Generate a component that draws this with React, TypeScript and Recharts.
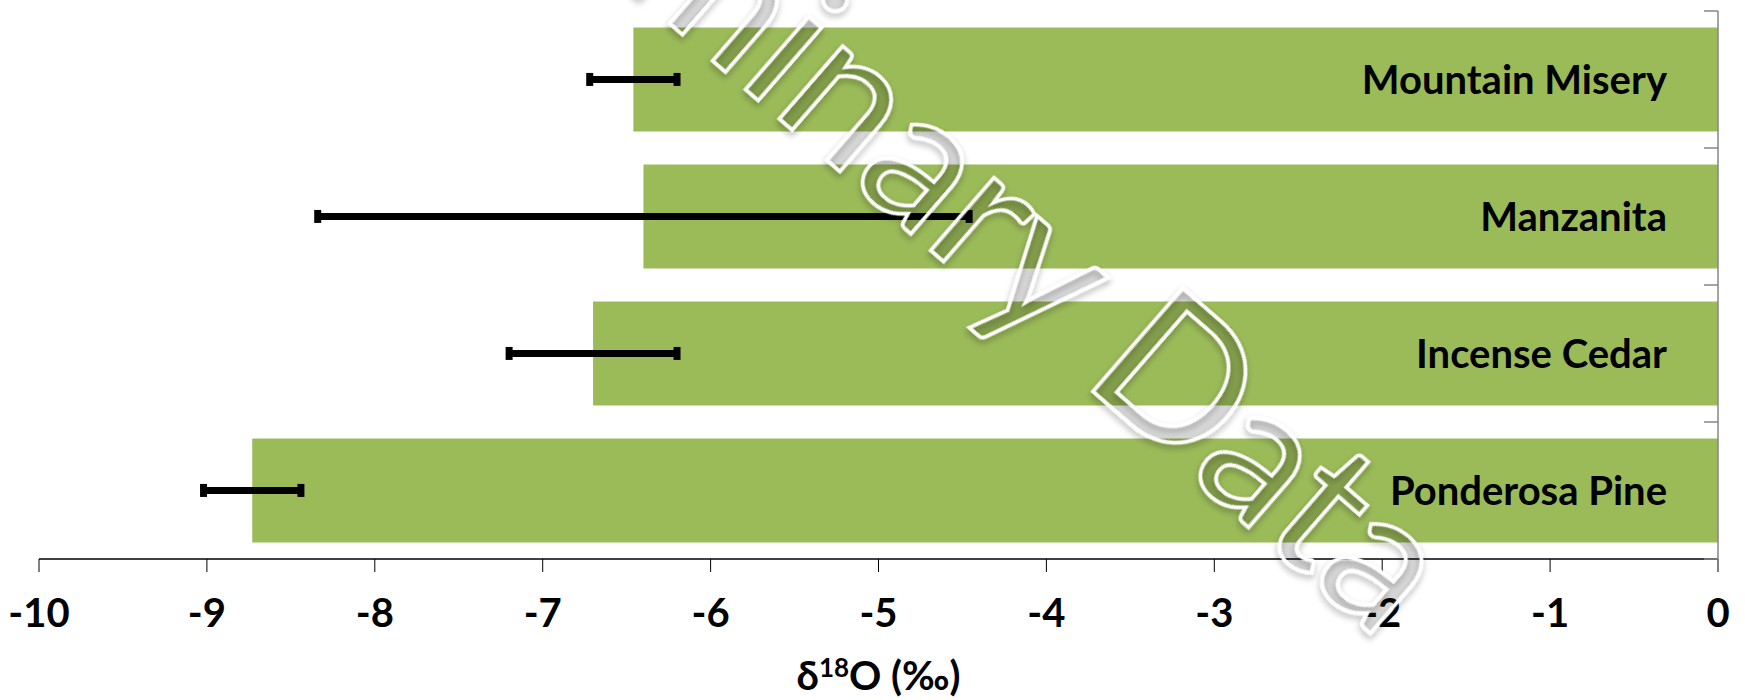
import React from "react"
import { BarChart, Bar, XAxis, YAxis, ErrorBar, Label } from "recharts"

const species = ["Mountain Misery", "Manzanita", "Incense Cedar", "Ponderosa Pine"]
const delta18O = [-6.46, -6.4, -6.7, -8.73]
const errors = [0.26, 1.94, 0.5, 0.29]
const xTicks = [-10, -9, -8, -7, -6, -5, -4, -3, -2, -1, 0]

const data = species.map((name, i) => ({ name, value: delta18O[i], err: errors[i] }))

const FONT = "Lato, 'Open Sans', sans-serif"
const GREEN = "#9BBB59"
const W = 1745
const H = 700
const margin = { top: 11, right: 26, bottom: 0, left: 39 }
const xAxisHeight = 141
const bandSize = (H - margin.top - margin.bottom - xAxisHeight) / species.length

// category names sit inside the bars, tick marks fall between categories (Excel style)
const CategoryTick = (props: any) => {
  const { x, y, payload, index, visibleTicksCount } = props
  const half = bandSize / 2
  return (
    <g>
      <line x1={x - 14} x2={x} y1={y - half} y2={y - half} stroke="#868686" strokeWidth={1.5} />
      {index === visibleTicksCount - 1 && (
        <line x1={x - 14} x2={x} y1={y + half} y2={y + half} stroke="#868686" strokeWidth={1.5} />
      )}
      <text
        x={x - 51}
        y={y}
        dy="0.36em"
        textAnchor="end"
        fontFamily={FONT}
        fontWeight="bold"
        fontSize={40}
        fill="#000"
      >
        {payload.value}
      </text>
    </g>
  )
}

const AxisTitle = (props: any) => {
  const vb = props.viewBox
  return (
    <text
      x={vb.x + vb.width / 2}
      y={vb.y + 131}
      textAnchor="middle"
      fontFamily={FONT}
      fontWeight="bold"
      fontSize={40}
      fill="#000"
    >
      δ
      <tspan dy={-13} fontSize={26}>
        18
      </tspan>
      <tspan dy={13}>O (‰)</tspan>
    </text>
  )
}

export default function App() {
  return (
    <div style={{ position: "absolute", left: 0, top: 0, width: W, height: H, background: "#fff" }}>
      <BarChart
        width={W}
        height={H}
        data={data}
        layout="vertical"
        margin={margin}
        barCategoryGap="12%"
      >
        <XAxis
          type="number"
          domain={[-10, 0]}
          ticks={xTicks}
          interval={0}
          allowDataOverflow
          height={xAxisHeight}
          axisLine={{ stroke: "#000", strokeWidth: 1.5 }}
          tickLine={{ stroke: "#000", strokeWidth: 1 }}
          tickSize={13}
          tickMargin={27}
          tick={{ fontFamily: FONT, fontWeight: "bold", fontSize: 40, fill: "#000" }}
        >
          <Label content={AxisTitle} />
        </XAxis>
        <YAxis
          type="category"
          dataKey="name"
          orientation="right"
          width={1}
          axisLine={{ stroke: "#868686", strokeWidth: 1.5 }}
          tickLine={false}
          tickSize={0}
          tickMargin={0}
          interval={0}
          tick={<CategoryTick />}
        />
        <Bar dataKey="value" fill={GREEN} isAnimationActive={false}>
          <ErrorBar dataKey="err" direction="x" stroke="#000" strokeWidth={7} width={6.5} />
        </Bar>
      </BarChart>
      <svg
        width={W}
        height={H}
        style={{ position: "absolute", left: 0, top: 0, pointerEvents: "none" }}
      >
        <defs>
          <filter id="wmShadow" x="-10%" y="-10%" width="120%" height="120%">
            <feDropShadow dx="2" dy="3" stdDeviation="3" floodColor="#000" floodOpacity="0.35" />
          </filter>
        </defs>
        <text
          x={1380}
          y={641}
          transform="rotate(41 1380 641)"
          textAnchor="end"
          fontFamily={FONT}
          fontSize={190}
          fill="rgba(0,0,0,0.12)"
          stroke="#fff"
          strokeWidth={3.5}
          filter="url(#wmShadow)"
        >
          Preliminary Data
        </text>
      </svg>
    </div>
  )
}
